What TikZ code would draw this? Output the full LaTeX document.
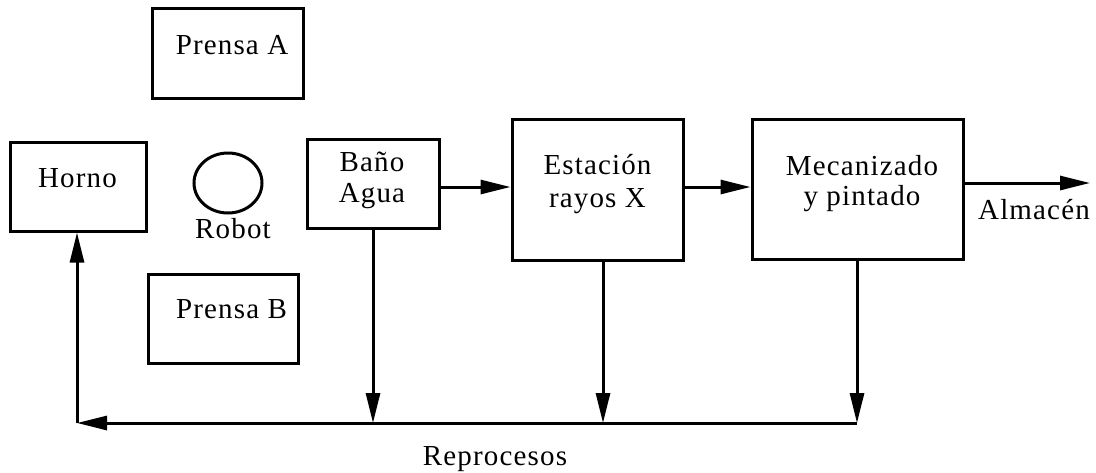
\documentclass[tikz,border=0pt]{standalone}
\usepackage{fontspec}
\setmainfont{Liberation Serif}[LetterSpace=4]
\usetikzlibrary{arrows.meta,shapes.geometric}
\tikzset{
  box/.style={draw, line width=3pt, rectangle, inner sep=0pt},
  lbl/.style={inner sep=0pt, anchor=base, font=\fontsize{29}{33}\selectfont},
  arr/.style={line width=3pt, -{Triangle[length=30pt,width=14pt]}},
  ln/.style={line width=3pt}
}
\begin{document}
\begin{tikzpicture}[x=1pt,y=-1pt]
\useasboundingbox (0,0) rectangle (1096,472);
% boxes
\node[box, minimum width=151pt, minimum height=90pt] (prensaA) at (227.5,53) {};
\node[box, minimum width=136pt, minimum height=89pt] (horno) at (78,186.5) {};
\node[draw, ellipse, line width=3pt, inner sep=0pt, minimum width=68pt, minimum height=60pt] (robot) at (228,183) {};
\node[box, minimum width=150pt, minimum height=89pt] (prensaB) at (223,318.5) {};
\node[box, minimum width=132pt, minimum height=89pt] (bano) at (373,183.5) {};
\node[box, minimum width=171pt, minimum height=141pt] (estacion) at (597.5,189.5) {};
\node[box, minimum width=211pt, minimum height=140pt] (mecan) at (857.5,189) {};
% labels
\node[lbl] (tPA) at (232,54) {Prensa A};
\node[lbl] (tHo) at (77.5,187) {Horno};
\node[lbl] (tRo) at (233,238) {Robot};
\node[lbl] (tPB) at (231.5,318) {Prensa B};
\node[lbl] (tBa1) at (372,171) {Baño};
\node[lbl] (tBa2) at (372,202) {Agua};
\node[lbl] (tEs1) at (597.5,174) {Estación};
\node[lbl] (tEs2) at (597.5,207) {rayos X};
\node[lbl] (tMe1) at (862,175) {Mecanizado};
\node[lbl] (tMe2) at (862,205) {y pintado};
\node[lbl] (tAl) at (1034,219) {Almacén};
\node[lbl] (tRe) at (495,465) {Reprocesos};
% coordinates
\coordinate (rowA) at (0,187);
\coordinate (rowB) at (0,183);
\coordinate (out) at (1090,183);
\coordinate (j1) at (373,423);
\coordinate (j2) at (603,423);
\coordinate (j3) at (857,423);
\coordinate (jl) at (77,423);
% connectors
\draw[arr] (bano.east |- rowA) -- (estacion.west |- rowA);
\draw[arr] (estacion.east |- rowA) -- (mecan.west |- rowA);
\draw[arr] (mecan.east |- rowB) -- (out);
\draw[arr] (j1 |- bano.south) -- (j1);
\draw[arr] (j2 |- estacion.south) -- (j2);
\draw[arr] (j3 |- mecan.south) -- (j3);
\draw[arr] (j3) -- (jl);
\draw[arr] (jl) -- (jl |- horno.south);
\end{tikzpicture}
\end{document}
